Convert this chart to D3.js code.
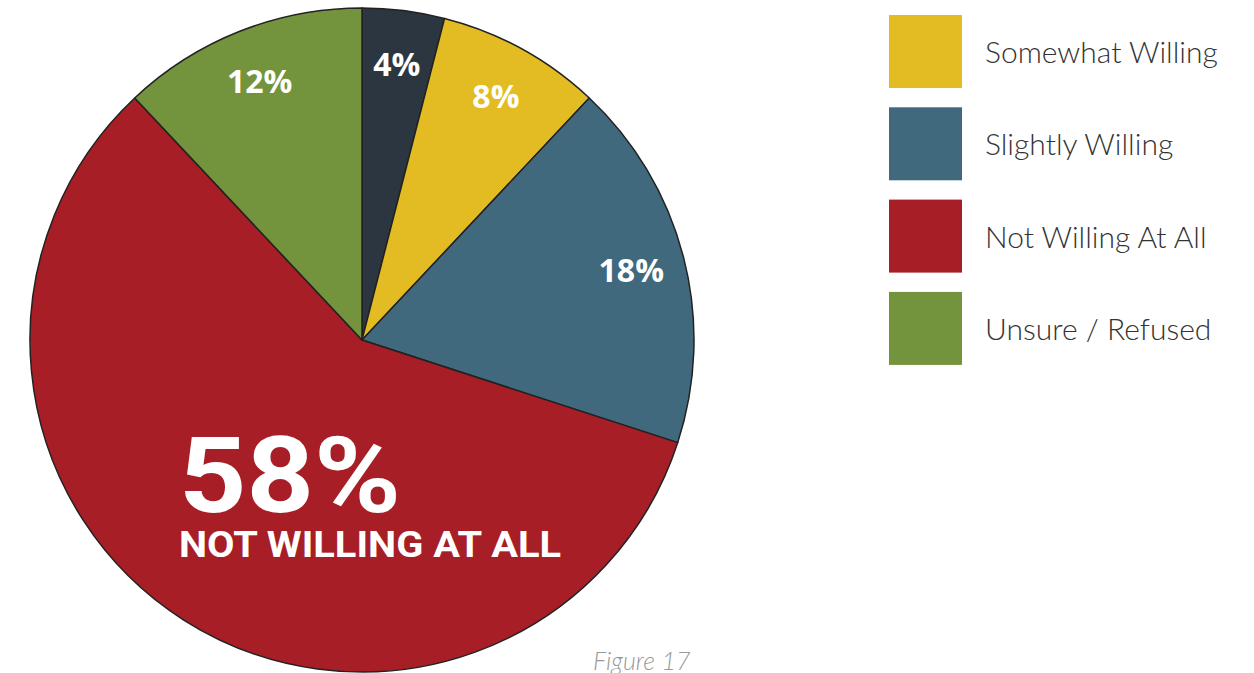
<!DOCTYPE html>
<html>
<head>
<meta charset="utf-8">
<script src="https://cdn.jsdelivr.net/npm/d3@7"></script>
<style>
  body { margin: 0; background: #fff; }
  svg { display: block; }
</style>
</head>
<body>
<svg width="1254" height="673"></svg>
<script>
// pie slices, clockwise from 12 o'clock
const categories = ['Very Willing', 'Somewhat Willing', 'Slightly Willing', 'Not Willing At All', 'Unsure / Refused']
const values = [4, 8, 18, 58, 12]
const colours = ['#2b3640', '#e2bc22', '#41697e', '#a81e26', '#73933c']

// legend only lists these
const legendItems = ['Somewhat Willing', 'Slightly Willing', 'Not Willing At All', 'Unsure / Refused']

const svg = d3.select('svg'),
width = +svg.attr('width'),
height = +svg.attr('height')

const cx = 362, cy = 340, radius = 332

const colour = d3.scaleOrdinal()
  .domain(categories)
  .range(colours)

const pie = d3.pie()
  .sort(null)
  .value(d => d.value)

const data = categories.map((c, i) => ({ name: c, value: values[i] }))
const arcs = pie(data)

const arc = d3.arc()
  .innerRadius(0)
  .outerRadius(radius)

const labelArc = d3.arc()
  .innerRadius(278)
  .outerRadius(278)

const g = svg.append('g')
  .attr('transform', `translate(${cx},${cy})`)

g.selectAll('path')
  .data(arcs)
  .enter()
  .append('path')
  .attr('d', arc)
  .attr('fill', d => colour(d.data.name))
  .attr('stroke', '#222')
  .attr('stroke-width', 1.5)
  .attr('stroke-linejoin', 'round')

// small % labels, big slice gets its own callout
g.selectAll('text.pct')
  .data(arcs.filter(d => d.data.value < 50))
  .enter()
  .append('text')
  .attr('class', 'pct')
  .attr('transform', d => `translate(${labelArc.centroid(d)})`)
  .attr('text-anchor', 'middle')
  .attr('dy', '0.36em')
  .style('font-family', '"Open Sans", Roboto, sans-serif')
  .style('font-weight', 700)
  .style('font-size', '32px')
  .style('fill', '#fff')
  .text(d => d.data.value + '%')

const big = arcs.find(d => d.data.value >= 50)

svg.append('text')
  .attr('x', 179)
  .attr('y', 512)
  .attr('textLength', 222)
  .attr('lengthAdjust', 'spacingAndGlyphs')
  .style('font-family', 'Roboto, "Liberation Sans", sans-serif')
  .style('font-weight', 700)
  .style('font-size', '106px')
  .style('fill', '#fff')
  .text(big.data.value + '%')

svg.append('text')
  .attr('x', 179)
  .attr('y', 557)
  .attr('textLength', 382)
  .attr('lengthAdjust', 'spacingAndGlyphs')
  .style('font-family', 'Roboto, "Liberation Sans", sans-serif')
  .style('font-weight', 700)
  .style('font-size', '37px')
  .style('fill', '#fff')
  .text(big.data.name.toUpperCase())

// legend
const legend = svg.append('g')
  .attr('class', 'legend')
  .selectAll('g')
  .data(legendItems)
  .enter()
  .append('g')
  .attr('transform', (d, i) => `translate(889,${15 + i * 92.3})`)

legend.append('rect')
  .attr('width', 73)
  .attr('height', 73)
  .attr('fill', d => colour(d))

legend.append('text')
  .attr('x', 96)
  .attr('y', 48)
  .style('font-family', 'Lato, "Open Sans", sans-serif')
  .style('font-weight', 300)
  .style('font-size', '30px')
  .style('fill', '#333')
  .text(d => d)

svg.append('text')
  .attr('x', 593)
  .attr('y', 670)
  .style('font-family', 'Lato, "Open Sans", sans-serif')
  .style('font-weight', 300)
  .style('font-style', 'italic')
  .style('font-size', '25px')
  .style('fill', '#999')
  .text('Figure 17')
</script>
</body>
</html>
